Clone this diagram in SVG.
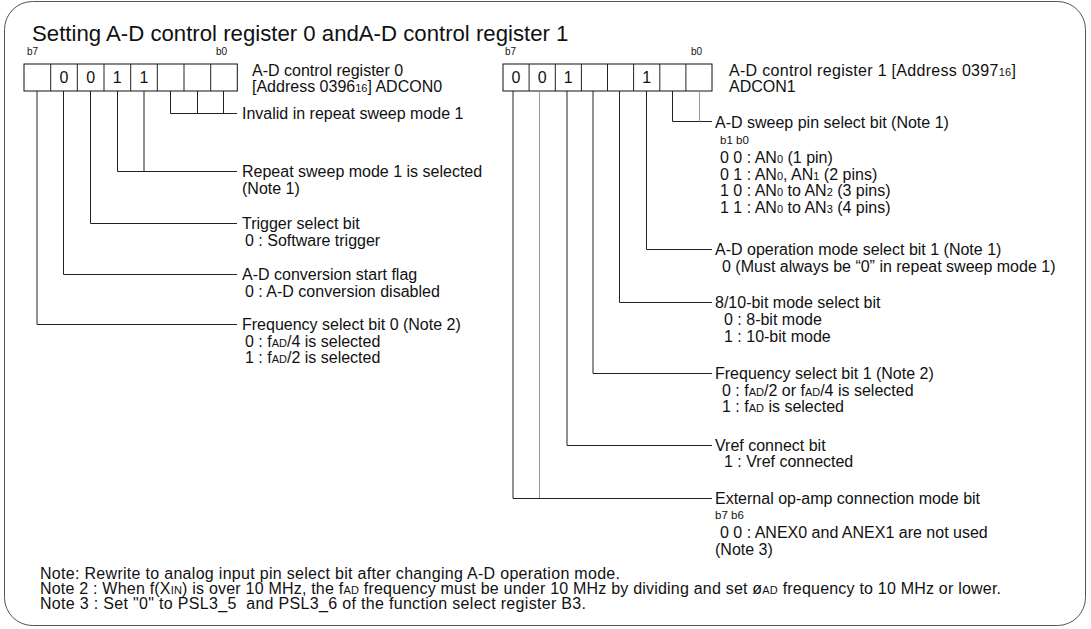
<svg xmlns="http://www.w3.org/2000/svg" width="1091" height="629" viewBox="0 0 1091 629">
<style>
text{font-family:"Liberation Sans",Arial,sans-serif;fill:#111}
.t{font-size:16px}
.title{font-size:22.2px}
.s{font-size:10px}
.s2{font-size:11.5px}
.sub{font-size:11px}
.cell{fill:#fff;stroke:#111;stroke-width:1}
.ln{fill:none;stroke:#222;stroke-width:1}
.lg{fill:none;stroke:#999;stroke-width:1}
.d{font-size:16px;text-anchor:middle}
</style>
<rect x="4.5" y="1.5" width="1081" height="624" rx="28" ry="28" fill="#fff" stroke="#555" stroke-width="1"/>
<text class="title" x="32" y="41">Setting A-D control register 0 andA-D control register 1</text>

<g id="reg0">
<text class="s" x="27" y="55">b7</text>
<text class="s" x="216" y="55">b0</text>
<rect class="cell" x="24" y="64" width="213.3" height="27"/>
<path class="ln" d="M50.7 64V91M77.3 64V91M104 64V91M130.7 64V91M157.3 64V91M184 64V91M210.7 64V91"/>
<text class="d" x="64" y="83">0</text>
<text class="d" x="90.7" y="83">0</text>
<text class="d" x="117.3" y="83">1</text>
<text class="d" x="144" y="83">1</text>
<text class="t" x="252" y="76">A-D control register 0</text>
<text class="t" x="252" y="92">[Address 0396<tspan class="sub">16</tspan>] ADCON0</text>
</g>

<g id="reg1">
<text class="s" x="505" y="55">b7</text>
<text class="s" x="691" y="55">b0</text>
<rect class="cell" x="503" y="64" width="209" height="27"/>
<path class="ln" d="M529.1 64V91M555.3 64V91M581.4 64V91M607.5 64V91M633.6 64V91M659.8 64V91M685.9 64V91"/>
<text class="d" x="516" y="83">0</text>
<text class="d" x="542.2" y="83">0</text>
<text class="d" x="568.3" y="83">1</text>
<text class="d" x="646.7" y="83">1</text>
<text class="t" x="729" y="76" textLength="287" lengthAdjust="spacing">A-D control register 1 [Address 0397<tspan class="sub">16</tspan>]</text>
<text class="t" x="729" y="92">ADCON1</text>
</g>

<g id="connectors">
<path class="ln" d="M170.5 91V113.5H237M197.5 91V113.5M223.5 91V113.5"/>
<path class="ln" d="M117.5 91V171.5H237M144 91V171.5"/>
<path class="ln" d="M90.5 91V223.5H237"/>
<path class="ln" d="M63.5 91V274.5H237"/>
<path class="ln" d="M37 91V324.5H237"/>
<path class="ln" d="M672.5 91V121.5H712"/>
<path class="lg" d="M699.5 91V121.5"/>
<path class="ln" d="M646.5 91V249.5H712"/>
<path class="ln" d="M619.5 91V302.5H712"/>
<path class="ln" d="M593 91V373.5H712"/>
<path class="ln" d="M567 91V445.5H712"/>
<path class="ln" d="M513 91V498.5H712"/>
<path class="lg" d="M539.5 91V498"/>
</g>

<g id="l-invalid"><text class="t" x="242" y="119">Invalid in repeat sweep mode 1</text></g>
<g id="l-repeat">
<text class="t" x="242" y="177">Repeat sweep mode 1 is selected</text>
<text class="t" x="242" y="194">(Note 1)</text>
</g>
<g id="l-trigger">
<text class="t" x="242" y="229">Trigger select bit</text>
<text class="t" x="245" y="246">0 : Software trigger</text>
</g>
<g id="l-start">
<text class="t" x="242" y="280">A-D conversion start flag</text>
<text class="t" x="245" y="297">0 : A-D conversion disabled</text>
</g>
<g id="l-freq0">
<text class="t" x="242" y="330">Frequency select bit 0 (Note 2)</text>
<text class="t" x="245" y="346.5">0 : f<tspan class="sub">AD</tspan>/4 is selected</text>
<text class="t" x="245" y="363">1 : f<tspan class="sub">AD</tspan>/2 is selected</text>
</g>

<g id="r-sweep">
<text class="t" x="715" y="127.5">A-D sweep pin select bit (Note 1)</text>
<text class="s2" x="720" y="144">b1 b0</text>
<text class="t" x="720" y="163">0 0 : AN<tspan class="sub">0</tspan> (1 pin)</text>
<text class="t" x="720" y="179.5">0 1 : AN<tspan class="sub">0</tspan>, AN<tspan class="sub">1</tspan> (2 pins)</text>
<text class="t" x="720" y="196">1 0 : AN<tspan class="sub">0</tspan> to AN<tspan class="sub">2</tspan> (3 pins)</text>
<text class="t" x="720" y="212.5">1 1 : AN<tspan class="sub">0</tspan> to AN<tspan class="sub">3</tspan> (4 pins)</text>
</g>
<g id="r-opmode">
<text class="t" x="715" y="255">A-D operation mode select bit 1 (Note 1)</text>
<text class="t" x="722" y="271.5">0 (Must always be “0” in repeat sweep mode 1)</text>
</g>
<g id="r-810">
<text class="t" x="715" y="308">8/10-bit mode select bit</text>
<text class="t" x="724" y="325">0 : 8-bit mode</text>
<text class="t" x="724" y="341.5">1 : 10-bit mode</text>
</g>
<g id="r-freq1">
<text class="t" x="715" y="379">Frequency select bit 1 (Note 2)</text>
<text class="t" x="722" y="395.5">0 : f<tspan class="sub">AD</tspan>/2 or f<tspan class="sub">AD</tspan>/4 is selected</text>
<text class="t" x="722" y="412">1 : f<tspan class="sub">AD</tspan> is selected</text>
</g>
<g id="r-vref">
<text class="t" x="715" y="450.5">Vref connect bit</text>
<text class="t" x="724" y="467">1 : Vref connected</text>
</g>
<g id="r-ext">
<text class="t" x="715" y="503.5">External op-amp connection mode bit</text>
<text class="s2" x="715" y="519">b7 b6</text>
<text class="t" x="720" y="538">0 0 : ANEX0 and ANEX1 are not used</text>
<text class="t" x="715" y="554.5">(Note 3)</text>
</g>

<g id="notes">
<text class="t" x="40" y="579" textLength="580" lengthAdjust="spacing">Note: Rewrite to analog input pin select bit after changing A-D operation mode.</text>
<text class="t" x="40" y="594" textLength="961" lengthAdjust="spacing">Note 2 : When f(X<tspan class="sub">IN</tspan>) is over 10 MHz, the f<tspan class="sub">AD</tspan> frequency must be under 10 MHz by dividing and set ø<tspan class="sub">AD</tspan> frequency to 10 MHz or lower.</text>
<text class="t" x="40" y="609" textLength="546" lengthAdjust="spacing">Note 3 : Set "0" to PSL3_5&#160; and PSL3_6 of the function select register B3.</text>
</g>
</svg>
